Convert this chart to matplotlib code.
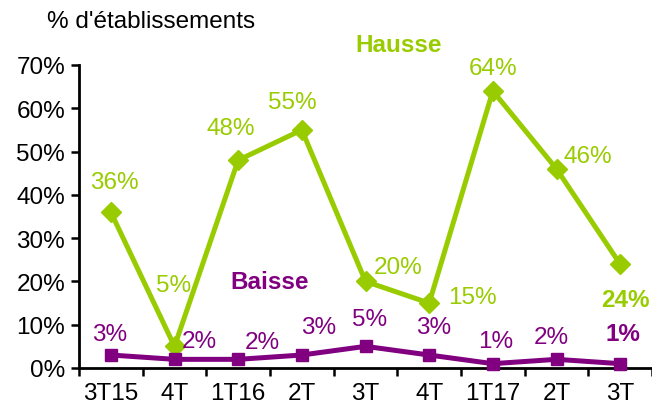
import matplotlib.pyplot as plt
import numpy as np

plt.rcParams['font.family'] = ['Liberation Sans', 'DejaVu Sans']

# Data
categories = ['3T15', '4T', '1T16', '2T', '3T', '4T', '1T17', '2T', '3T']
hausse = [36, 5, 48, 55, 20, 15, 64, 46, 24]
baisse = [3, 2, 2, 3, 5, 3, 1, 2, 1]

GREEN = '#99CC00'
PURPLE = '#800080'
FS = 17.5

# label offsets in pixels (dx, dy)
hausse_offsets = [(4, 30), (-1, 61), (-7, 32), (-10, 28), (33, 14),
                  (43, 6), (0, 23), (31, 13), (5, -35)]
baisse_offsets = [(-1, 21), (25, 18), (24, 17), (17, 28), (4, 27),
                  (4, 28), (3, 23), (-5, 22), (3, 30)]

fig = plt.figure(figsize=(6.52, 4.06), dpi=100)
ax = fig.add_axes([79 / 652, 1 - 369 / 406, 1 - 79 / 652, (369 - 66) / 406])

x = np.arange(len(categories))
h = np.array(hausse) / 100
b = np.array(baisse) / 100

ax.plot(x, h, color=GREEN, lw=3.6, marker='D', markersize=10, clip_on=False, zorder=3)
ax.plot(x, b, color=PURPLE, lw=3.6, marker='s', markersize=9, clip_on=False, zorder=3)

for i, (v, off) in enumerate(zip(hausse, hausse_offsets)):
    last = i == len(hausse) - 1
    ax.annotate(f'{v}%', (x[i], h[i]), xytext=off, textcoords='offset pixels',
                ha='center', va='center', fontsize=FS, color=GREEN,
                fontweight='bold' if last else 'normal')
for i, (v, off) in enumerate(zip(baisse, baisse_offsets)):
    last = i == len(baisse) - 1
    ax.annotate(f'{v}%', (x[i], b[i]), xytext=off, textcoords='offset pixels',
                ha='center', va='center', fontsize=FS, color=PURPLE,
                fontweight='bold' if last else 'normal')

ax.set_xlim(-0.5, len(categories) - 0.5)
ax.set_ylim(0, 0.7)
ax.set_yticks(np.arange(0, 0.71, 0.1))
ax.set_yticklabels([f'{int(round(t * 100))}%' for t in np.arange(0, 0.71, 0.1)])
ax.set_xticks(x)
ax.set_xticklabels(categories)
ax.set_xticks(np.arange(-0.5, len(categories), 1), minor=True)
ax.tick_params(axis='x', which='major', length=0, labelsize=FS, pad=10)
ax.tick_params(axis='x', which='minor', length=6, width=1.8, direction='out')
ax.tick_params(axis='y', length=6, width=1.8, labelsize=FS, pad=4)

for s in ['top', 'right']:
    ax.spines[s].set_visible(False)
for s in ['left', 'bottom']:
    ax.spines[s].set_linewidth(2)

fig.text(47 / 652, 1 - 22 / 406, "% d'établissements", fontsize=FS, ha='left', va='center')
fig.text(399 / 652, 1 - 45 / 406, 'Hausse', fontsize=FS, fontweight='bold',
         color=GREEN, ha='center', va='center')
fig.text(270 / 652, 1 - 283 / 406, 'Baisse', fontsize=FS, fontweight='bold',
         color=PURPLE, ha='center', va='center')

fig.savefig('out.png', dpi=100)
